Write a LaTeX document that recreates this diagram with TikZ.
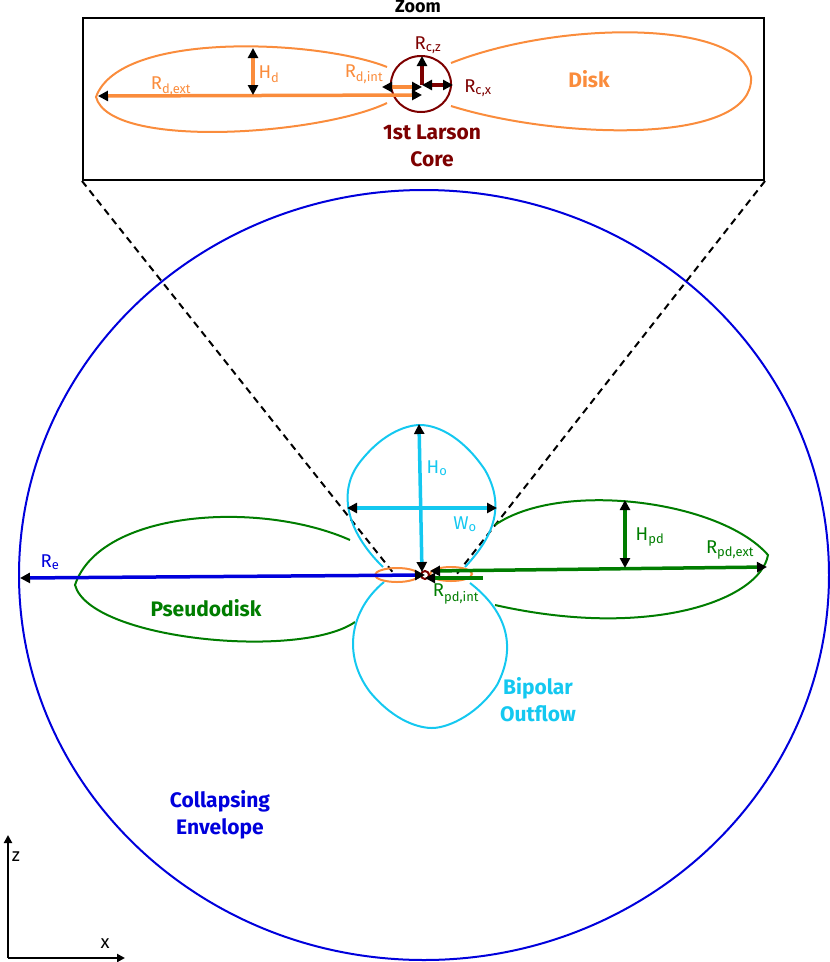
\documentclass[tikz,border=0pt]{standalone}
\usepackage{fontspec}
\setmainfont{Fira Sans}
\usetikzlibrary{arrows.meta}
\definecolor{diskorange}{RGB}{250,140,60}
\definecolor{outcyan}{RGB}{20,200,240}
\definecolor{pdgreen}{RGB}{0,125,0}
\definecolor{coredark}{RGB}{125,0,0}
\definecolor{envblue}{RGB}{0,0,220}
\tikzstyle{dim} = [line width=3.5pt, {Triangle[length=10pt,width=10pt,black]}-{Triangle[length=10pt,width=10pt,black]}]
\tikzstyle{half} = [line width=3.5pt, -{Triangle[length=10pt,width=10pt,black]}]
\tikzstyle{lbl} = [font=\fontsize{18.5}{20}\selectfont, inner sep=1pt]
\tikzstyle{title} = [font=\bfseries\fontsize{21}{27}\selectfont, align=center, inner sep=1pt]
\begin{document}
\begin{tikzpicture}[x=1pt,y=-1pt,line width=2pt]
\useasboundingbox (0,0) rectangle (830,962);
% envelope
\draw[envblue] (424,575) ellipse [x radius=405, y radius=385];
% zoom box
\node (box) [draw, black, line width=2pt, minimum width=681pt, minimum height=162pt, inner sep=0pt] at (423.5,99) {};
\node (zoom) [title, font=\bfseries\fontsize{18}{20}\selectfont] at (418,6) {Zoom};
\coordinate (cen) at (425,575);
\draw[dashed, line width=2pt, dash pattern=on 7pt off 5pt] (box.south west) -- (395,575);
\draw[dashed, line width=2pt, dash pattern=on 7pt off 5pt] (box.south east) -- (456,575);
% pseudodisk
\draw[pdgreen] (350,540) .. controls (260,500) and (100,510) .. (75,585)
  .. controls (90,640) and (300,660) .. (355,622);
\draw[pdgreen] (495,525) .. controls (560,480) and (720,500) .. (768,555)
  .. controls (760,600) and (650,640) .. (495,605);
% outflow
\draw[outcyan] (383,567) .. controls (345,530) and (338,490) .. (360,462)
  .. controls (385,430) and (410,425) .. (420,425)
  .. controls (440,425) and (465,440) .. (485,470)
  .. controls (505,505) and (495,535) .. (465,567);
\draw[outcyan] (384,582) .. controls (350,610) and (342,655) .. (370,692)
  .. controls (395,722) and (420,728) .. (432,728)
  .. controls (450,728) and (480,712) .. (497,685)
  .. controls (518,645) and (505,610) .. (470,583);
% inner disk and core
\draw[diskorange] (397,575) ellipse [x radius=22, y radius=7];
\draw[diskorange] (451,574) ellipse [x radius=21, y radius=7];
\draw[coredark] (cen) circle (4);
% dimensions
\coordinate (reend) at (20,578);
\draw[dim, envblue] (reend) -- (cen);
\node (re) [lbl, envblue] at (50,562) {R\textsubscript{e}};
\draw[dim, pdgreen] (430,571) -- (767,567);
\node (rpdext) [lbl, pdgreen] at (730,550) {R\textsubscript{pd,ext}};
\draw[{Triangle[length=10pt,width=10pt,black]}-, line width=3.5pt, pdgreen] (425,578) -- (483,578);
\node (rpdint) [lbl, pdgreen] at (456,594) {R\textsubscript{pd,int}};
\draw[dim, pdgreen] (625,500) -- (625,568);
\node (hpd) [lbl, pdgreen] at (650,537) {H\textsubscript{pd}};
\draw[dim, outcyan] (419,424) -- (422,572);
\node (ho) [lbl, outcyan] at (437,468) {H\textsubscript{o}};
\draw[dim, outcyan] (347,508) -- (497,508);
\node (wo) [lbl, outcyan] at (465,524) {W\textsubscript{o}};
% zoomed disk
\draw[diskorange] (387,67) .. controls (320,40) and (120,30) .. (96,97)
  .. controls (110,150) and (320,135) .. (387,103);
\draw[diskorange] (451,63) .. controls (560,20) and (740,20) .. (751,77)
  .. controls (755,145) and (560,140) .. (451,106);
\draw[coredark] (421,84) ellipse [x radius=30, y radius=28];
\coordinate (zc) at (422,85);
\draw[dim, diskorange] (98,96) -- (422,95);
\node (rdext) [lbl, diskorange] at (171,86) {R\textsubscript{d,ext}};
\draw[dim, diskorange] (253,48) -- (253,95);
\node (hd) [lbl, diskorange] at (269,74) {H\textsubscript{d}};
\draw[dim, diskorange] (382,87) -- (422,87);
\node (rdint) [lbl, diskorange] at (364,74) {R\textsubscript{d,int}};
\draw[half, coredark] (zc) -- (422,56);
\node (rcz) [lbl, coredark] at (428,45) {R\textsubscript{c,z}};
\draw[dim, coredark] (zc) -- (453,85);
\node (rcx) [lbl, coredark] at (478,88) {R\textsubscript{c,x}};
% titles
\node (disk) [title, diskorange] at (589,79) {Disk};
\node (core) [title, coredark] at (432,146) {1st Larson\\Core};
\node (pd) [title, pdgreen] at (206,608) {Pseudodisk};
\node (bo) [title, outcyan] at (538,700) {Bipolar\\Outflow};
\node (env) [title, envblue] at (220,815) {Collapsing\\Envelope};
% axes
\coordinate (o) at (8,958);
\coordinate (zt) at (8,835);
\coordinate (xt) at (125,958);
\draw[-{Triangle[length=8pt,width=8pt]}, line width=2pt] (o) -- (zt);
\draw[-{Triangle[length=8pt,width=8pt]}, line width=2pt] (o) -- (xt);
\node (zl) [lbl] at (16,857) {z};
\node (xl) [lbl] at (105,944) {x};
\end{tikzpicture}
\end{document}
